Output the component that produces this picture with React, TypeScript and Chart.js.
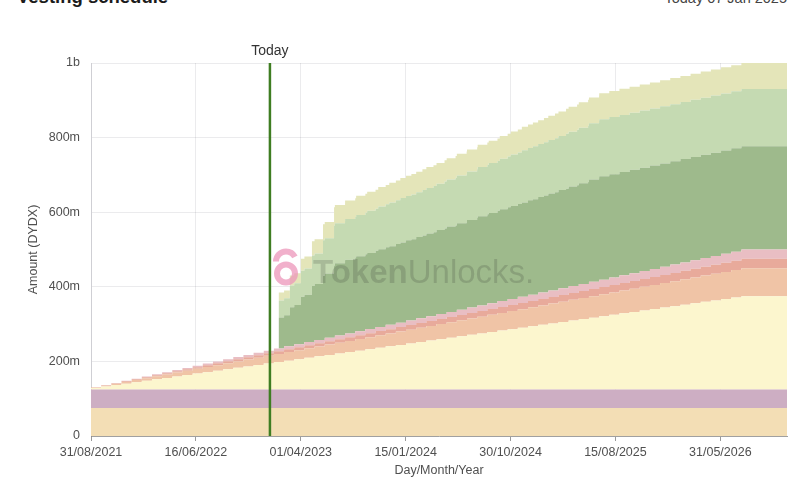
import React, { useEffect, useRef } from 'react';
import { Chart, registerables } from 'chart.js';

Chart.register(...registerables);

// x axis = days since 31/08/2021
const TICK_DAYS = [0, 289, 578, 867, 1156, 1445, 1734];
const TICK_LABELS = ['31/08/2021', '16/06/2022', '01/04/2023', '15/01/2024', '30/10/2024', '15/08/2025', '31/05/2026'];
const Y_TICK_LABELS = ['0', '200m', '400m', '600m', '800m', '1b'];
const TODAY_DAY = 493;
const MONTH_DAYS = 30.44; // monthly unlock period
const EPOCH_DAYS = 28; // reward epoch period
const X_MAX_DAYS = 1917.7;

// values in millions of DYDX
// monthly series (index 0 = Aug 2021)
const RETROACTIVE = [
  75, 75, 75, 75, 75, 75, 75, 75, 75, 75, 75, 75, 75, 75, 75, 75, 75, 75, 75, 75,
  75, 75, 75, 75, 75, 75, 75, 75, 75, 75, 75, 75, 75, 75, 75, 75, 75, 75, 75, 75,
  75, 75, 75, 75, 75, 75, 75, 75, 75, 75, 75, 75, 75, 75, 75, 75, 75, 75, 75, 75,
  75, 75, 75, 75,
];
const TREASURY = [
  50, 50, 50, 50, 50, 50, 50, 50, 50, 50, 50, 50, 50, 50, 50, 50, 50, 50, 50, 50,
  50, 50, 50, 50, 50, 50, 50, 50, 50, 50, 50, 50, 50, 50, 50, 50, 50, 50, 50, 50,
  50, 50, 50, 50, 50, 50, 50, 50, 50, 50, 50, 50, 50, 50, 50, 50, 50, 50, 50, 50,
  50, 50, 50, 50,
];
// per 28-day epoch series (index 0 = first epoch)
const TRADING = [
  3.8, 7.7, 11.5, 15.4, 19.2, 23.1, 26.9, 30.8, 34.6, 38.5,
  42.3, 46.2, 50, 53.8, 57.7, 61.5, 65.4, 69.2, 73.1, 76.9,
  80.8, 84.6, 88.5, 92.3, 96.2, 100, 103.8, 107.7, 111.5, 115.4,
  119.2, 123.1, 126.9, 130.8, 134.6, 138.5, 142.3, 146.2, 150, 153.8,
  157.7, 161.5, 165.4, 169.2, 173.1, 176.9, 180.8, 184.6, 188.5, 192.3,
  196.2, 200, 203.8, 207.7, 211.5, 215.4, 219.2, 223.1, 226.9, 230.8,
  234.6, 238.5, 242.3, 246.2, 250, 250, 250, 250, 250,
];
const LP_REWARDS = [
  1.2, 2.3, 3.5, 4.6, 5.8, 6.9, 8.1, 9.2, 10.4, 11.5,
  12.7, 13.8, 15, 16.2, 17.3, 18.5, 19.6, 20.8, 21.9, 23.1,
  24.2, 25.4, 26.5, 27.7, 28.8, 30, 31.2, 32.3, 33.5, 34.6,
  35.8, 36.9, 38.1, 39.2, 40.4, 41.5, 42.7, 43.8, 45, 46.2,
  47.3, 48.5, 49.6, 50.8, 51.9, 53.1, 54.2, 55.4, 56.5, 57.7,
  58.8, 60, 61.2, 62.3, 63.5, 64.6, 65.8, 66.9, 68.1, 69.2,
  70.4, 71.5, 72.7, 73.8, 75, 75, 75, 75, 75,
];
const SAFETY_MODULE = [
  0.4, 0.8, 1.2, 1.5, 1.9, 2.3, 2.7, 3.1, 3.5, 3.8,
  4.2, 4.6, 5, 5.4, 5.8, 6.2, 6.5, 6.9, 7.3, 7.7,
  8.1, 8.5, 8.8, 9.2, 9.6, 10, 10.4, 10.8, 11.2, 11.5,
  11.9, 12.3, 12.7, 13.1, 13.5, 13.8, 14.2, 14.6, 15, 15.4,
  15.8, 16.2, 16.5, 16.9, 17.3, 17.7, 18.1, 18.5, 18.8, 19.2,
  19.6, 20, 20.4, 20.8, 21.2, 21.5, 21.9, 22.3, 22.7, 23.1,
  23.5, 23.8, 24.2, 24.6, 25, 25, 25, 25, 25,
];
const LIQUIDITY_STAKING = [
  0.4, 0.8, 1.2, 1.5, 1.9, 2.3, 2.7, 3.1, 3.5, 3.8,
  4.2, 4.6, 5, 5.4, 5.8, 6.2, 6.5, 6.9, 7.3, 7.7,
  8.1, 8.5, 8.8, 9.2, 9.6, 10, 10.4, 10.8, 11.2, 11.5,
  11.9, 12.3, 12.7, 13.1, 13.5, 13.8, 14.2, 14.6, 15, 15.4,
  15.8, 16.2, 16.5, 16.9, 17.3, 17.7, 18.1, 18.5, 18.8, 19.2,
  19.6, 20, 20.4, 20.8, 21.2, 21.5, 21.9, 22.3, 22.7, 23.1,
  23.5, 23.8, 24.2, 24.6, 25, 25, 25, 25, 25,
];
// monthly unlock series
const INVESTORS = [
  0, 0, 0, 0, 0, 0, 0, 0, 0, 0, 0, 0, 0, 0, 0, 0, 0, 83, 105, 127,
  150, 172, 194, 197.5, 201, 204, 208, 211, 215, 218, 222, 225, 229, 232, 235, 239, 242, 246, 249, 253,
  256, 260, 263, 267, 270, 274, 277, 277, 277, 277, 277, 277, 277, 277, 277, 277, 277, 277, 277, 277,
  277, 277, 277, 277,
];
const FOUNDERS = [
  0, 0, 0, 0, 0, 0, 0, 0, 0, 0, 0, 0, 0, 0, 0, 0, 0, 46, 58, 70,
  82, 95, 107, 109, 111, 113, 115, 117, 119, 120, 122, 124, 126, 128, 130, 132, 134, 136, 138, 140,
  142, 143, 145, 147, 149, 151, 153, 153, 153, 153, 153, 153, 153, 153, 153, 153, 153, 153, 153, 153,
  153, 153, 153, 153,
];
const FUTURE_EMPLOYEES = [
  0, 0, 0, 0, 0, 0, 0, 0, 0, 0, 0, 0, 0, 0, 0, 0, 0, 21, 27, 32,
  38, 43, 49, 50, 51, 51, 52, 53, 54, 55, 56, 56, 57, 58, 59, 60, 60, 61, 62, 63,
  64, 65, 66, 67, 68, 69, 70, 70, 70, 70, 70, 70, 70, 70, 70, 70, 70, 70, 70, 70,
  70, 70, 70, 70,
];

const SERIES_NAMES = [
  'Retroactive Mining Rewards', 'Treasury', 'Trading Rewards', 'Liquidity Provider Rewards',
  'Safety Module', 'Liquidity Staking', 'Investors', 'Founders, Employees, Advisors', 'Future Employees',
];
const SERIES_VALUES = [
  RETROACTIVE, TREASURY, TRADING, LP_REWARDS, SAFETY_MODULE, LIQUIDITY_STAKING,
  INVESTORS, FOUNDERS, FUTURE_EMPLOYEES,
];
const SERIES_PERIODS = [
  MONTH_DAYS, MONTH_DAYS, EPOCH_DAYS, EPOCH_DAYS, EPOCH_DAYS, EPOCH_DAYS,
  MONTH_DAYS, MONTH_DAYS, MONTH_DAYS,
];
const SERIES_COLORS = [
  '#f3deb5', '#cdaec3', '#fcf6ce', '#f0c4a6', '#e8aa9b', '#e9bec3', '#9eba8c', '#c5dab2', '#e4e5b9',
];

const FONT = "'Liberation Sans', Arial, Helvetica, sans-serif";

const overlayPlugin = {
  id: 'overlay',
  afterDatasetsDraw(chart: any) {
    const { ctx, chartArea } = chart;
    const cx = (chartArea.left + chartArea.right) / 2;
    const cy = (chartArea.top + chartArea.bottom) / 2;
    ctx.save();
    ctx.strokeStyle = 'rgba(236, 150, 185, 0.75)';
    ctx.lineWidth = 6;
    ctx.beginPath();
    ctx.arc(cx - 153, cy + 24, 9, 0, Math.PI * 2);
    ctx.stroke();
    ctx.beginPath();
    ctx.arc(cx - 153, cy + 12, 10, Math.PI * 1.0, Math.PI * 1.85);
    ctx.stroke();
    ctx.textBaseline = 'alphabetic';
    ctx.textAlign = 'left';
    ctx.fillStyle = 'rgba(55, 60, 50, 0.2)';
    const x0 = cx - 126;
    const by = cy + 33;
    ctx.font = `bold 33px ${FONT}`;
    ctx.fillText('Token', x0, by);
    const w = ctx.measureText('Token').width;
    ctx.font = `33px ${FONT}`;
    ctx.fillText('Unlocks.', x0 + w, by);
    ctx.restore();
  },
  afterDraw(chart: any) {
    const { ctx, chartArea, scales } = chart;
    const x = scales.x.getPixelForValue(TODAY_DAY);
    ctx.save();
    ctx.strokeStyle = '#3f7d22';
    ctx.lineWidth = 2.5;
    ctx.beginPath();
    ctx.moveTo(x, chartArea.top);
    ctx.lineTo(x, chartArea.bottom);
    ctx.stroke();
    ctx.fillStyle = '#333';
    ctx.font = `14px ${FONT}`;
    ctx.textAlign = 'center';
    ctx.textBaseline = 'middle';
    ctx.fillText('Today', x, chartArea.top - 12);
    ctx.restore();
  },
};

function buildDatasets() {
  // union of all unlock dates so the stacked step areas line up
  const xs: number[] = [];
  SERIES_VALUES.forEach((vals, si) => {
    vals.forEach((_, i) => {
      const d = Math.round(i * SERIES_PERIODS[si] * 100) / 100;
      if (d <= X_MAX_DAYS && !xs.includes(d)) xs.push(d);
    });
  });
  if (!xs.includes(X_MAX_DAYS)) xs.push(X_MAX_DAYS);
  xs.sort((a, b) => a - b);
  return SERIES_VALUES.map((vals, si) => {
    const period = SERIES_PERIODS[si];
    const data = xs.map((x) => {
      let v = 0;
      for (let i = 0; i < vals.length; i++) {
        if (Math.round(i * period * 100) / 100 <= x) v = vals[i];
        else break;
      }
      return { x, y: v };
    });
    return {
      label: SERIES_NAMES[si],
      data,
      backgroundColor: SERIES_COLORS[si],
      borderColor: SERIES_COLORS[si],
      borderWidth: 0,
      pointRadius: 0,
      fill: si === 0 ? 'origin' : '-1',
      stepped: true,
    };
  });
}

export default function App() {
  const ref = useRef<HTMLCanvasElement>(null);
  useEffect(() => {
    if (!ref.current) return;
    const chart = new Chart(ref.current, {
      type: 'line',
      data: { datasets: buildDatasets() } as any,
      options: {
        animation: false,
        responsive: false,
        devicePixelRatio: 1,
        layout: { padding: { left: 0, top: 63, right: 13, bottom: 0 } },
        plugins: { legend: { display: false }, tooltip: { enabled: false } },
        scales: {
          x: {
            type: 'linear',
            min: 0,
            max: X_MAX_DAYS,
            z: 1,
            afterBuildTicks: (s: any) => {
              s.ticks = TICK_DAYS.map((v) => ({ value: v }));
            },
            afterFit: (s: any) => {
              s.height = 45;
            },
            ticks: {
              autoSkip: false,
              maxRotation: 0,
              padding: 4,
              color: '#505050',
              font: { family: FONT, size: 12.5 },
              callback: (_v: any, i: number) => TICK_LABELS[i],
            },
            grid: { color: 'rgba(0,0,30,0.08)', tickLength: 5, tickColor: '#9a9a9a' },
            border: { color: '#a0a0a0' },
            title: {
              display: true,
              text: 'Day/Month/Year',
              color: '#505050',
              font: { family: FONT, size: 12.5 },
              padding: { top: 0, bottom: 3 },
            },
          },
          y: {
            type: 'linear',
            stacked: true,
            min: 0,
            max: 1000,
            z: 1,
            afterFit: (s: any) => {
              s.width = 91;
            },
            ticks: {
              stepSize: 200,
              padding: 11,
              color: '#505050',
              font: { family: FONT, size: 12.5 },
              callback: (_v: any, i: number) => Y_TICK_LABELS[i],
            },
            grid: { color: 'rgba(0,0,30,0.08)', drawTicks: false },
            border: { color: 'rgba(0,0,30,0.12)' },
            title: {
              display: true,
              text: 'Amount (DYDX)',
              color: '#505050',
              font: { family: FONT, size: 12.5 },
              padding: { top: 26, bottom: 0 },
            },
          },
        },
      } as any,
      plugins: [overlayPlugin],
    });
    return () => chart.destroy();
  }, []);

  return (
    <div style={{ position: 'absolute', left: 0, top: 0, width: 800, height: 481, overflow: 'hidden', background: '#fff' }}>
      <div
        style={{
          position: 'absolute', left: 17, top: -12, fontFamily: FONT, fontWeight: 'bold',
          fontSize: 18.5, lineHeight: '18.5px', color: '#1b1b1b', whiteSpace: 'nowrap',
        }}
      >
        Vesting schedule
      </div>
      <div
        style={{
          position: 'absolute', right: 13, top: -9, fontFamily: FONT,
          fontSize: 14.5, lineHeight: '14.5px', color: '#444', whiteSpace: 'nowrap',
        }}
      >
        Today 07 Jan 2025
      </div>
      <canvas ref={ref} width={800} height={481} style={{ position: 'absolute', left: 0, top: 0 }} />
    </div>
  );
}
